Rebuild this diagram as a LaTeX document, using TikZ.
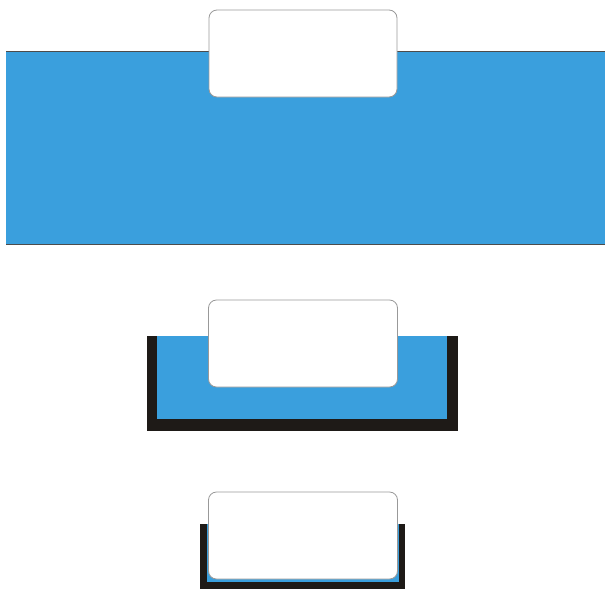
\documentclass[tikz,border=0pt]{standalone}
\begin{document}
\begin{tikzpicture}[x=1pt,y=-1pt,
  water/.style={fill=bluefill},
  tray/.style={fill=darkfill},
  card/.style={fill=white,draw=gray!80,line width=0.8pt,rounded corners=8pt}]
\definecolor{bluefill}{HTML}{3A9FDD}
\definecolor{darkfill}{HTML}{1E1A17}
\useasboundingbox (0,0) rectangle (611,600);
% top
\fill[water] (6,51) rectangle (605,244);
\draw[line width=0.8pt,gray!60!black] (6,51) -- (605,51);
\draw[line width=0.8pt,gray!60!black] (6,244) -- (605,244);
\node[card,minimum width=188pt,minimum height=87pt,inner sep=0pt] (c1) at (303,53.5) {};
% middle
\fill[tray] (147,336) rectangle (458,431);
\fill[water] (157,336) rectangle (447,419);
\node[card,minimum width=189pt,minimum height=87pt,inner sep=0pt] (c2) at (303,343.5) {};
% bottom
\fill[tray] (200,524) rectangle (405,589);
\fill[water] (207,524) rectangle (399,582);
\node[card,minimum width=189pt,minimum height=87pt,inner sep=0pt] (c3) at (303,535.5) {};
\end{tikzpicture}
\end{document}
